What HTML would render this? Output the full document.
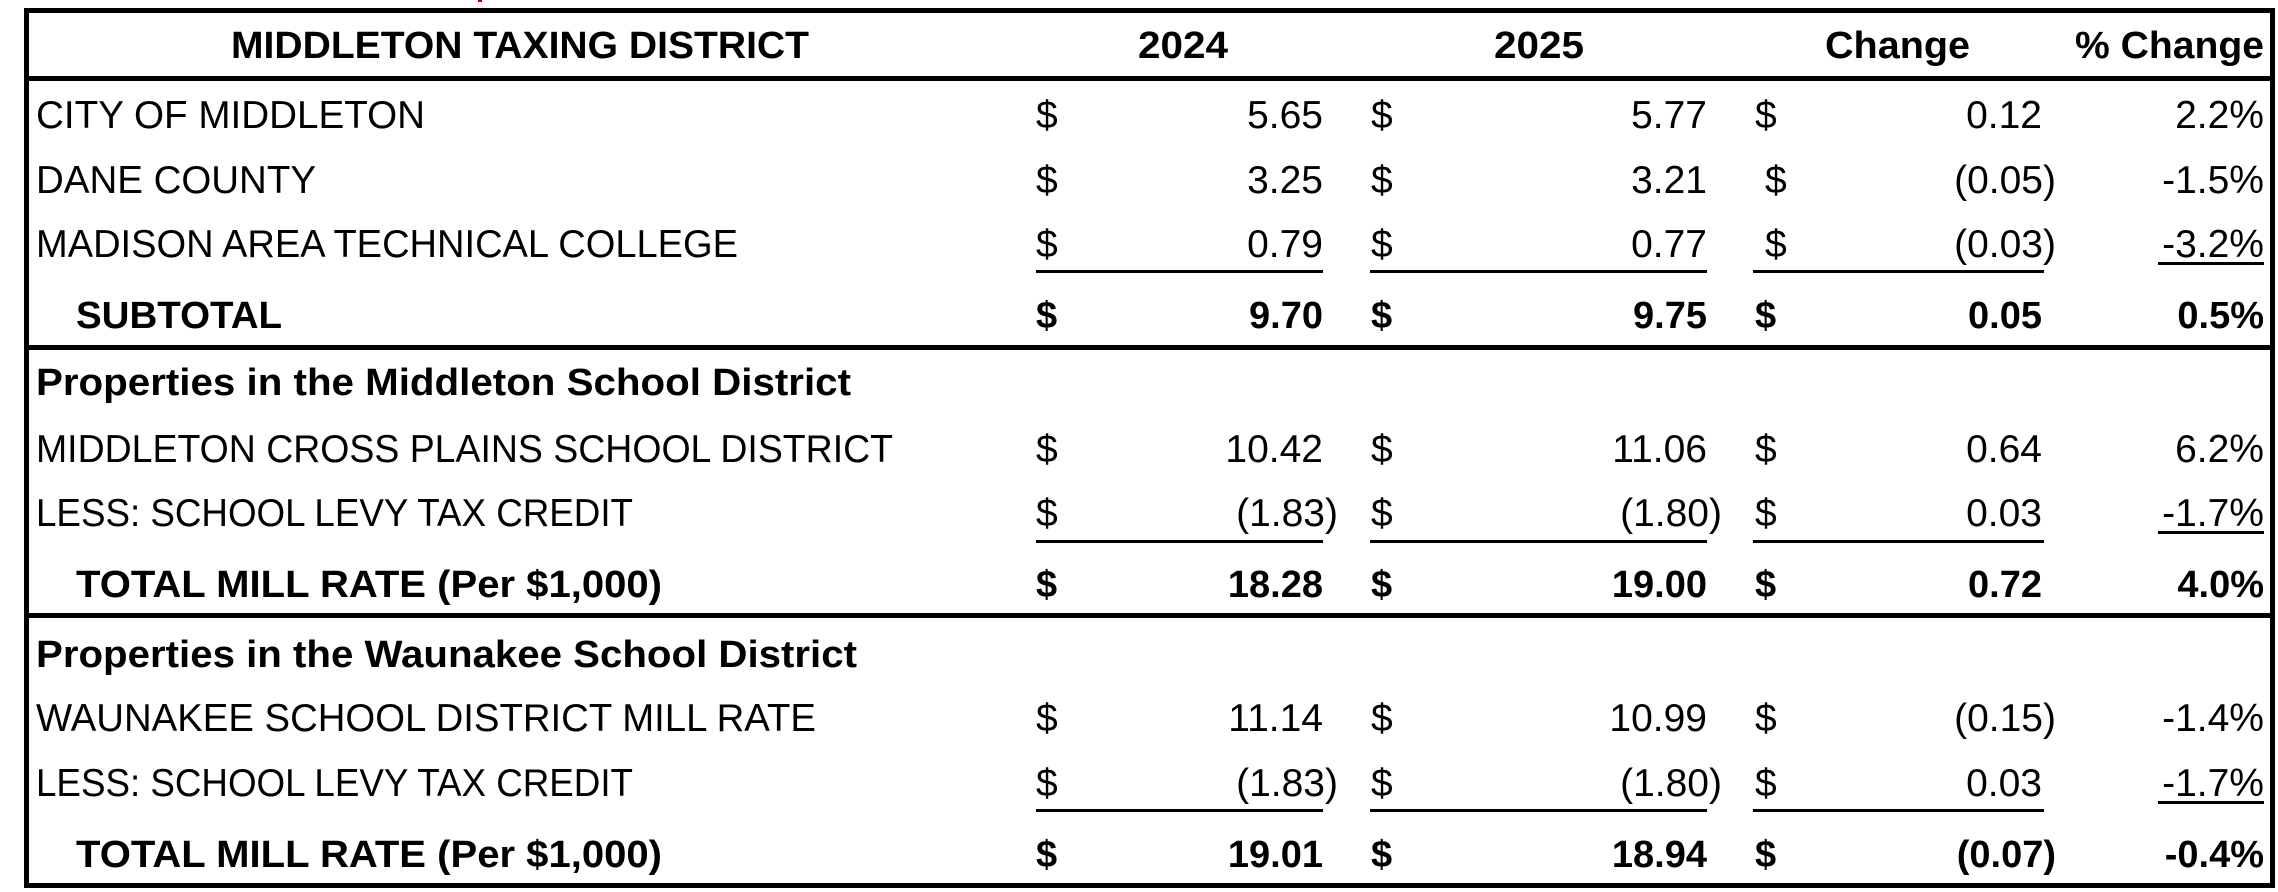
<!DOCTYPE html>
<html><head><meta charset="utf-8"><style>
html,body{margin:0;padding:0;background:#fff;}
svg{display:block;}
text{font-family:"Liberation Sans",sans-serif;fill:#000;}
.r{font-size:39px;}
.b{font-size:38px;font-weight:bold;}
</style></head><body>
<svg width="2278" height="892" viewBox="0 0 2278 892" xmlns="http://www.w3.org/2000/svg">
<rect x="0" y="0" width="2278" height="892" fill="#fff"/>
<rect x="478" y="0" width="4" height="2" fill="#c00000"/>
<!-- borders -->
<rect x="24" y="8" width="2251" height="5" fill="#000"/>
<rect x="24" y="76" width="2251" height="5" fill="#000"/>
<rect x="24" y="345" width="2251" height="5" fill="#000"/>
<rect x="24" y="613" width="2251" height="5" fill="#000"/>
<rect x="24" y="883" width="2251" height="5" fill="#000"/>
<rect x="24" y="8" width="5" height="880" fill="#000"/>
<rect x="2270" y="8" width="5" height="880" fill="#000"/>
<!-- header -->
<g class="b">
<text class="b" x="231" y="58" textLength="578" lengthAdjust="spacingAndGlyphs">MIDDLETON TAXING DISTRICT</text>
<text class="b" x="1138" y="58" textLength="90" lengthAdjust="spacingAndGlyphs">2024</text>
<text class="b" x="1494" y="58" textLength="90" lengthAdjust="spacingAndGlyphs">2025</text>
<text class="b" x="1825" y="58" textLength="145" lengthAdjust="spacingAndGlyphs">Change</text>
<text class="b" x="2075" y="58" textLength="189" lengthAdjust="spacingAndGlyphs">% Change</text>
</g>
<!-- labels -->
<text class="r" x="36" y="128" textLength="389" lengthAdjust="spacingAndGlyphs">CITY OF MIDDLETON</text>
<text class="r" x="36" y="193" textLength="280" lengthAdjust="spacingAndGlyphs">DANE COUNTY</text>
<text class="r" x="36" y="257" textLength="702" lengthAdjust="spacingAndGlyphs">MADISON AREA TECHNICAL COLLEGE</text>
<text class="b" x="76" y="328" textLength="206" lengthAdjust="spacingAndGlyphs">SUBTOTAL</text>
<text class="b" x="36" y="395" textLength="815" lengthAdjust="spacingAndGlyphs">Properties in the Middleton School District</text>
<text class="r" x="36" y="462" textLength="857" lengthAdjust="spacingAndGlyphs">MIDDLETON CROSS PLAINS SCHOOL DISTRICT</text>
<text class="r" x="36" y="526" textLength="597" lengthAdjust="spacingAndGlyphs">LESS: SCHOOL LEVY TAX CREDIT</text>
<text class="b" x="76" y="597" textLength="586" lengthAdjust="spacingAndGlyphs">TOTAL MILL RATE (Per $1,000)</text>
<text class="b" x="36" y="667" textLength="821" lengthAdjust="spacingAndGlyphs">Properties in the Waunakee School District</text>
<text class="r" x="36" y="731" textLength="780" lengthAdjust="spacingAndGlyphs">WAUNAKEE SCHOOL DISTRICT MILL RATE</text>
<text class="r" x="36" y="796" textLength="597" lengthAdjust="spacingAndGlyphs">LESS: SCHOOL LEVY TAX CREDIT</text>
<text class="b" x="76" y="867" textLength="586" lengthAdjust="spacingAndGlyphs">TOTAL MILL RATE (Per $1,000)</text>

<!-- dollar signs -->
<g class="r">
<text class="r" x="1036" y="128">$</text><text class="r" x="1371" y="128">$</text><text class="r" x="1755" y="128">$</text>
<text class="r" x="1036" y="193">$</text><text class="r" x="1371" y="193">$</text><text class="r" x="1765" y="193">$</text>
<text class="r" x="1036" y="257">$</text><text class="r" x="1371" y="257">$</text><text class="r" x="1765" y="257">$</text>
<text class="b" x="1036" y="328">$</text><text class="b" x="1371" y="328">$</text><text class="b" x="1755" y="328">$</text>
<text class="r" x="1036" y="462">$</text><text class="r" x="1371" y="462">$</text><text class="r" x="1755" y="462">$</text>
<text class="r" x="1036" y="526">$</text><text class="r" x="1371" y="526">$</text><text class="r" x="1755" y="526">$</text>
<text class="b" x="1036" y="597">$</text><text class="b" x="1371" y="597">$</text><text class="b" x="1755" y="597">$</text>
<text class="r" x="1036" y="731">$</text><text class="r" x="1371" y="731">$</text><text class="r" x="1755" y="731">$</text>
<text class="r" x="1036" y="796">$</text><text class="r" x="1371" y="796">$</text><text class="r" x="1755" y="796">$</text>
<text class="b" x="1036" y="867">$</text><text class="b" x="1371" y="867">$</text><text class="b" x="1755" y="867">$</text>
</g>

<!-- numbers -->
<g text-anchor="end">
<text class="r" x="1323" y="128">5.65</text><text class="r" x="1707" y="128">5.77</text><text class="r" x="2042" y="128">0.12</text><text class="r" x="2264" y="128">2.2%</text>
<text class="r" x="1323" y="193">3.25</text><text class="r" x="1707" y="193">3.21</text><text class="r" x="2056" y="193">(0.05)</text><text class="r" x="2264" y="193">-1.5%</text>
<text class="r" x="1323" y="257">0.79</text><text class="r" x="1707" y="257">0.77</text><text class="r" x="2056" y="257">(0.03)</text><text class="r" x="2264" y="257">-3.2%</text>
<text class="b" x="1323" y="328">9.70</text><text class="b" x="1707" y="328">9.75</text><text class="b" x="2042" y="328">0.05</text><text class="b" x="2264" y="328">0.5%</text>
<text class="r" x="1323" y="462">10.42</text><text class="r" x="1707" y="462">11.06</text><text class="r" x="2042" y="462">0.64</text><text class="r" x="2264" y="462">6.2%</text>
<text class="r" x="1338" y="526">(1.83)</text><text class="r" x="1722" y="526">(1.80)</text><text class="r" x="2042" y="526">0.03</text><text class="r" x="2264" y="526">-1.7%</text>
<text class="b" x="1323" y="597">18.28</text><text class="b" x="1707" y="597">19.00</text><text class="b" x="2042" y="597">0.72</text><text class="b" x="2264" y="597">4.0%</text>
<text class="r" x="1323" y="731">11.14</text><text class="r" x="1707" y="731">10.99</text><text class="r" x="2056" y="731">(0.15)</text><text class="r" x="2264" y="731">-1.4%</text>
<text class="r" x="1338" y="796">(1.83)</text><text class="r" x="1722" y="796">(1.80)</text><text class="r" x="2042" y="796">0.03</text><text class="r" x="2264" y="796">-1.7%</text>
<text class="b" x="1323" y="867">19.01</text><text class="b" x="1707" y="867">18.94</text><text class="b" x="2056" y="867">(0.07)</text><text class="b" x="2264" y="867">-0.4%</text>
</g>

<!-- underlines -->
<g fill="#000">
<rect x="1036" y="270" width="287" height="3"/><rect x="1370" y="270" width="337" height="3"/><rect x="1753" y="270" width="291" height="3"/><rect x="2158" y="262" width="106" height="3"/>
<rect x="1036" y="540" width="287" height="3"/><rect x="1370" y="540" width="337" height="3"/><rect x="1753" y="540" width="291" height="3"/><rect x="2158" y="531" width="106" height="3"/>
<rect x="1036" y="809" width="287" height="3"/><rect x="1370" y="809" width="337" height="3"/><rect x="1753" y="809" width="291" height="3"/><rect x="2158" y="801" width="106" height="3"/>
</g>
</svg>
</body></html>
